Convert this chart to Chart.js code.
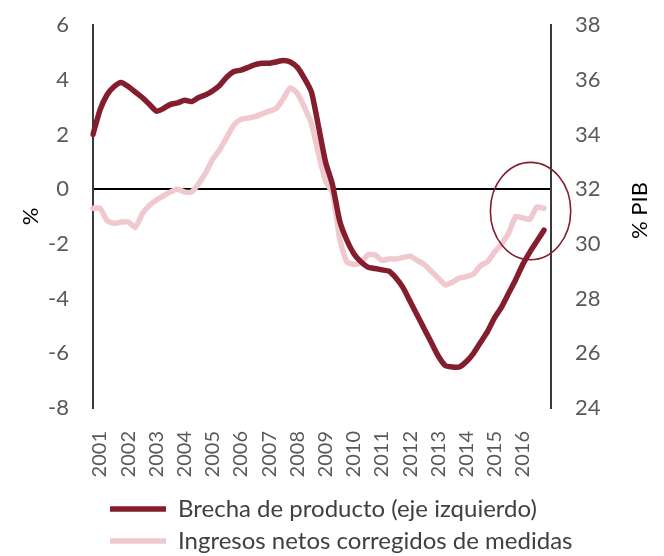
<!DOCTYPE html>
<html>
<head>
<meta charset="utf-8">
<script src="https://cdn.jsdelivr.net/npm/chart.js@4/dist/chart.umd.min.js"></script>
<style>
  html, body { margin:0; padding:0; background:#fff; }
  #wrap { width:664px; height:556px; }
</style>
</head>
<body>
<div id="wrap"><canvas id="chart" width="664" height="556"></canvas></div>
<script>
// Quarterly data 2001T1 onwards (last labels carry no data)
const years = [2001,2002,2003,2004,2005,2006,2007,2008,2009,2010,2011,2012,2013,2014,2015,2016,2017];
const quarters = [];
years.forEach(y => ['T1','T2','T3','T4'].forEach(q => quarters.push(y + q)));
const labels = quarters.slice(0, 66);

// Brecha de producto (% , eje izquierdo)
const brecha = [
  2.0, 2.9, 3.45, 3.75, 3.9, 3.75, 3.55, 3.35, 3.1, 2.85,
  2.95, 3.1, 3.15, 3.25, 3.2, 3.35, 3.45, 3.6, 3.8, 4.1,
  4.3, 4.35, 4.45, 4.55, 4.6, 4.6, 4.65, 4.7, 4.65, 4.45,
  4.05, 3.55, 2.3, 1.0, 0.15, -1.15, -1.85, -2.35, -2.65, -2.85,
  -2.9, -2.95, -3.0, -3.25, -3.6, -4.1, -4.6, -5.1, -5.6, -6.1,
  -6.45, -6.5, -6.5, -6.3, -6.0, -5.6, -5.2, -4.7, -4.3, -3.8,
  -3.3, -2.75, -2.3, -1.9, -1.5
];

// Ingresos netos corregidos de medidas (% PIB, eje derecho)
const ingresos = [
  31.3, 31.3, 30.85, 30.75, 30.8, 30.8, 30.6, 31.1, 31.4, 31.6,
  31.75, 31.9, 32.0, 31.9, 31.9, 32.2, 32.6, 33.1, 33.45, 33.9,
  34.35, 34.55, 34.6, 34.65, 34.75, 34.85, 34.95, 35.3, 35.7, 35.5,
  35.0, 34.4, 33.3, 32.3, 31.85, 30.2, 29.35, 29.25, 29.3, 29.6,
  29.6, 29.4, 29.45, 29.45, 29.5, 29.55, 29.4, 29.25, 29.0, 28.75,
  28.5, 28.6, 28.75, 28.8, 28.9, 29.2, 29.35, 29.7, 30.0, 30.4,
  31.0, 30.95, 30.9, 31.35, 31.3
];

const leftTicks = { min: -8, max: 6, step: 2 };
const rightTicks = { min: 24, max: 38, step: 2 };
const rightTitle = '% PIB';

const darkRed = '#841E2E';
const pink = '#F0C9CE';
const tickGray = '#595959';
const fontFamily = 'Lato, "Open Sans", sans-serif';

// ellipse highlighting the latest quarters
const highlight = {
  id: 'highlight',
  afterDatasetsDraw(chart){
    const x = chart.scales.x, y = chart.scales.y;
    const cx = x.getPixelForValue(62.1);
    const cy = y.getPixelForValue(-0.8);
    const rx = Math.abs(x.getPixelForValue(62.1 + 5.7) - cx);
    const ry = Math.abs(y.getPixelForValue(-0.8 + 1.78) - cy);
    const ctx = chart.ctx;
    ctx.save();
    ctx.beginPath();
    ctx.ellipse(cx, cy, rx, ry, 0, 0, Math.PI * 2);
    ctx.strokeStyle = darkRed;
    ctx.lineWidth = 1.6;
    ctx.stroke();
    ctx.restore();
  }
};

// right axis title reads bottom-to-top like the left one
const rightAxisTitle = {
  id: 'rightAxisTitle',
  afterDraw(chart){
    const s = chart.scales.y1;
    const ctx = chart.ctx;
    ctx.save();
    ctx.translate(s.right - 24, (s.top + s.bottom) / 2 - 6);
    ctx.rotate(-Math.PI / 2);
    ctx.font = '22px ' + fontFamily;
    ctx.fillStyle = '#000';
    ctx.textAlign = 'center';
    ctx.textBaseline = 'middle';
    ctx.fillText(rightTitle, 0, 0);
    ctx.restore();
  }
};

// push the legend a little right/down, under the plot like the original
const legendShift = {
  id: 'legendShift',
  afterLayout(chart){
    const lg = chart.legend;
    lg.left += 9; lg.right = chart.width; lg.width = lg.right - lg.left;
    lg.top += 7; lg.bottom += 7;
  }
};

// y axes: keep the label gap but don't let it pad the plot top
const fitY = w => s => { s.width = w; s.paddingTop = 0; s.paddingBottom = 0; };

new Chart(document.getElementById('chart'), {
  type: 'line',
  data: {
    labels: labels,
    datasets: [
      { label: 'Brecha de producto (eje izquierdo)', data: brecha, yAxisID: 'y',
        borderColor: darkRed, backgroundColor: darkRed, borderWidth: 5.5,
        pointRadius: 0, tension: 0.2, borderJoinStyle: 'round', borderCapStyle: 'round' },
      { label: 'Ingresos netos corregidos de medidas', data: ingresos, yAxisID: 'y1',
        borderColor: pink, backgroundColor: pink, borderWidth: 5.5,
        pointRadius: 0, tension: 0.2, borderJoinStyle: 'round', borderCapStyle: 'round' }
    ]
  },
  options: {
    responsive: false,
    animation: false,
    layout: { padding: { top: 25, bottom: 0, left: 0, right: 0 } },
    plugins: {
      tooltip: { enabled: false },
      legend: {
        position: 'bottom',
        align: 'start',
        fullSize: false,
        labels: {
          usePointStyle: true, pointStyle: 'line', pointStyleWidth: 56,
          padding: 8, color: '#404040',
          font: { family: fontFamily, size: 24 }
        }
      }
    },
    scales: {
      x: {
        grid: { display: false, drawTicks: false },
        border: { display: false },
        afterFit: s => { s.height = 74; },
        ticks: {
          autoSkip: false, maxRotation: 90, minRotation: 90, padding: 23,
          color: tickGray, font: { family: fontFamily, size: 20 },
          callback: function(v, i){
            return (i % 4 === 1 && i < brecha.length) ? this.getLabelForValue(v).slice(0, 4) : null;
          }
        }
      },
      y: {
        position: 'left',
        min: leftTicks.min, max: leftTicks.max,
        afterFit: fitY(93),
        grid: { drawTicks: false, lineWidth: 2,
          color: c => c.tick && c.tick.value === 0 ? '#000' : 'rgba(0,0,0,0)' },
        border: { display: true, color: '#3a3a3a', width: 2 },
        ticks: { stepSize: leftTicks.step, padding: 24, color: tickGray,
          font: { family: fontFamily, size: 22 } },
        title: { display: true, text: '%', color: '#000', padding: { top: 18, bottom: 0 },
          font: { family: fontFamily, size: 22 } }
      },
      y1: {
        position: 'right',
        min: rightTicks.min, max: rightTicks.max,
        afterFit: fitY(113),
        grid: { display: false, drawTicks: false },
        border: { display: true, color: '#3a3a3a', width: 2 },
        ticks: { stepSize: rightTicks.step, padding: 24, color: tickGray,
          font: { family: fontFamily, size: 22 } }
      }
    }
  },
  plugins: [highlight, rightAxisTitle, legendShift]
});
</script>
</body>
</html>
